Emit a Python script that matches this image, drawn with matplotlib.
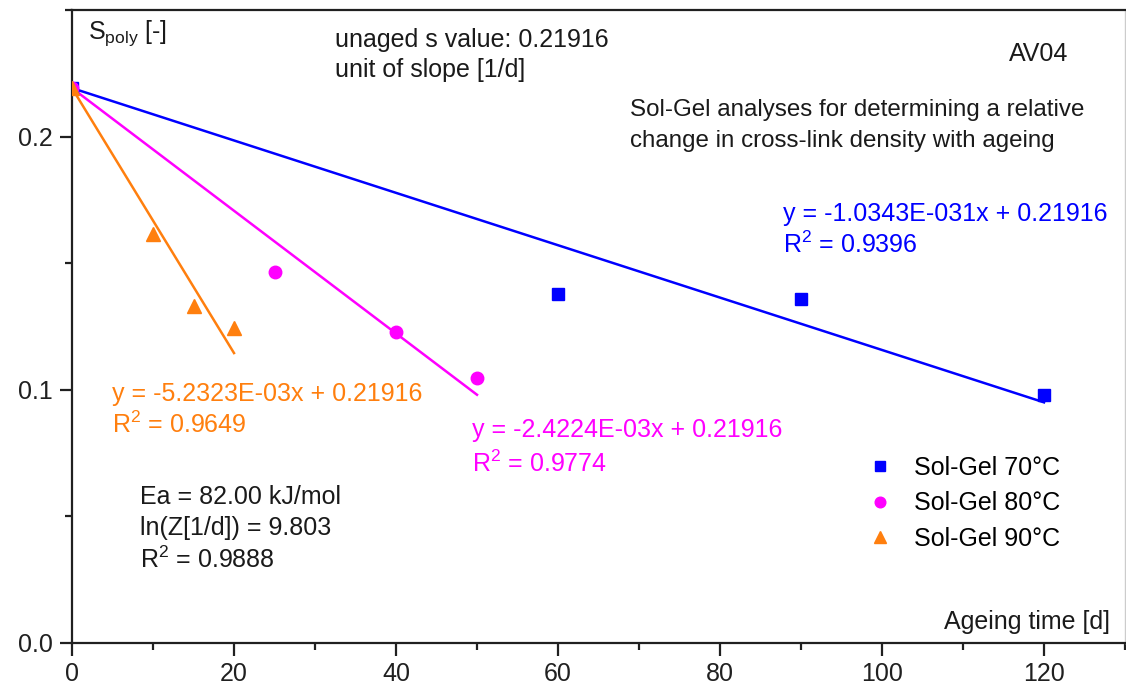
import numpy as np
import matplotlib
matplotlib.use("Agg")
import matplotlib.pyplot as plt
from matplotlib.ticker import MultipleLocator, FormatStrFormatter

plt.rcParams["font.family"] = ["Liberation Sans", "DejaVu Sans"]
plt.rcParams["mathtext.fontset"] = "custom"
plt.rcParams["mathtext.rm"] = "Liberation Sans"

# Data
s0 = 0.21916
t70 = [0, 60, 90, 120]
s70 = [0.21916, 0.138, 0.136, 0.0978]
t80 = [0, 25, 40, 50]
s80 = [0.21916, 0.1464, 0.1227, 0.1045]
t90 = [0, 10, 15, 20]
s90 = [0.21916, 0.1617, 0.1329, 0.1246]
slopes = [-1.0343e-03, -2.4224e-03, -5.2323e-03]
fit_end = [120, 50, 20]
colors = ["#0000ff", "#ff00ff", "#ff7f0e"]
labels = ["Sol-Gel 70°C", "Sol-Gel 80°C", "Sol-Gel 90°C"]

W, H = 1126, 686
fig = plt.figure(figsize=(W / 100, H / 100), dpi=100)
ax = fig.add_axes([72 / W, 1 - 643 / H, (1125 - 72) / W, (643 - 10) / H])

# fit lines
for k, c, xe in zip(slopes, colors, fit_end):
    xx = np.array([0, xe])
    ax.plot(xx, s0 + k * xx, color=c, lw=1.8, zorder=2)

ax.plot(t70, s70, "s", color=colors[0], ms=8, ls="none", label=labels[0], zorder=3)
ax.plot(t80, s80, "o", color=colors[1], ms=9, ls="none", label=labels[1], zorder=3)
ax.plot(t90, s90, "^", color=colors[2], ms=10, ls="none", label=labels[2], zorder=3)

ax.set_xlim(0, 130)
ax.set_ylim(0, 0.25)
ax.xaxis.set_major_locator(MultipleLocator(20))
ax.xaxis.set_minor_locator(MultipleLocator(10))
ax.yaxis.set_major_locator(MultipleLocator(0.1))
ax.yaxis.set_minor_locator(MultipleLocator(0.05))
ax.yaxis.set_major_formatter(FormatStrFormatter("%.1f"))
ax.tick_params(which="major", direction="out", length=9, width=1.6, labelsize=18,
               colors="#202020", pad=5)
ax.tick_params(which="minor", direction="out", length=5, width=1.6, colors="#202020")

for s in ["left", "bottom", "top"]:
    ax.spines[s].set_linewidth(1.6)
    ax.spines[s].set_color("#202020")
ax.spines["right"].set_color("#cccccc")
ax.spines["right"].set_linewidth(1)

fs = 18


def put(x, ys, lines, color="#1a1a1a", ha="left", size=fs):
    # one text per line, placed by pixel position of the reference
    for y, t in zip(ys, lines):
        fig.text(x / W, 1 - y / H, t, fontsize=size, color=color, ha=ha, va="center")


put(88, [33], [r"S$_{\mathrm{poly}}$ [-]"])
put(1110, [622], ["Ageing time [d]"], ha="right")
put(335, [40, 70], ["unaged s value: 0.21916", "unit of slope [1/d]"])
put(1068, [54], ["AV04"], ha="right")
put(630, [110, 141], ["Sol-Gel analyses for determining a relative",
                      "change in cross-link density with ageing"], size=17.4)
put(783, [214, 245], ["y = -1.0343E-031x + 0.21916", "R$^2$ = 0.9396"], color=colors[0])
put(112, [394, 425], ["y = -5.2323E-03x + 0.21916", "R$^2$ = 0.9649"], color=colors[2])
put(472, [430, 464], ["y = -2.4224E-03x + 0.21916", "R$^2$ = 0.9774"], color=colors[1])
put(140, [497, 528, 560], ["Ea = 82.00 kJ/mol", "ln(Z[1/d]) = 9.803", "R$^2$ = 0.9888"])

ax.legend(loc="upper left", bbox_to_anchor=(867 / W, 1 - 456 / H),
          bbox_transform=fig.transFigure, frameon=False, fontsize=fs,
          handlelength=1.0, handletextpad=0.9, labelspacing=0.45,
          borderpad=0, borderaxespad=0, markerscale=0.85)

fig.savefig("out.png", dpi=100)
